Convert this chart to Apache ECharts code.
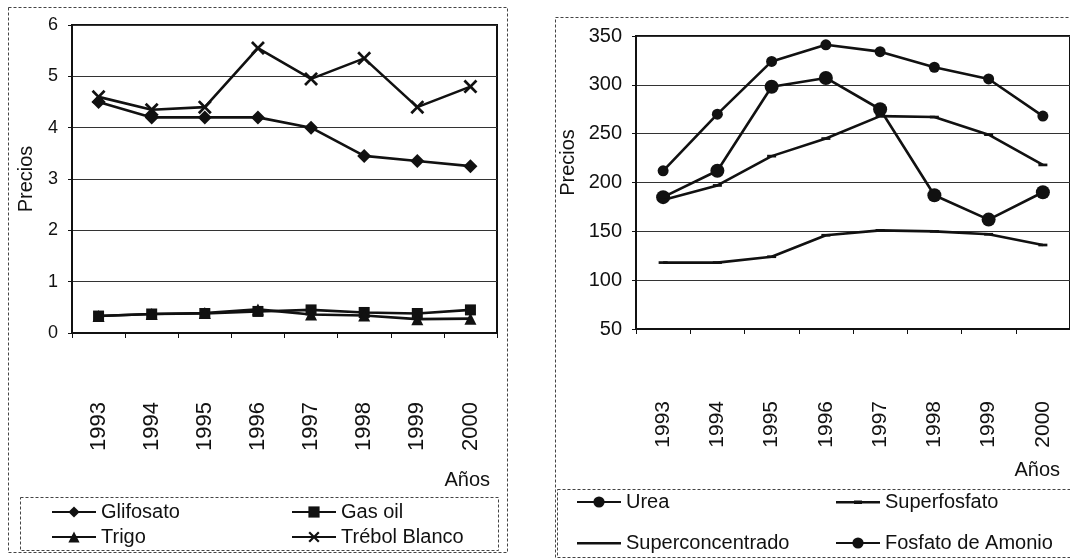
<!DOCTYPE html>
<html>
<head>
<meta charset="utf-8">
<script src="https://cdn.jsdelivr.net/npm/echarts@6/dist/echarts.min.js"></script>
<style>
html,body{margin:0;padding:0;background:#fff;}
#chart{width:1070px;height:559px;}
</style>
</head>
<body>
<div id="chart"></div>
<script>
// ---- data ----
const years = ['1993','1994','1995','1996','1997','1998','1999','2000'];
// left panel
const glifosato     = [4.5, 4.2, 4.2, 4.2, 4.0, 3.45, 3.35, 3.25];
const gasOil        = [0.33, 0.37, 0.38, 0.42, 0.45, 0.40, 0.38, 0.45];
const trigo         = [0.33, 0.37, 0.39, 0.46, 0.36, 0.34, 0.27, 0.28];
const trebolBlanco  = [4.6, 4.35, 4.4, 5.55, 4.95, 5.35, 4.4, 4.8];
// right panel
const urea             = [185, 212, 298, 307, 275, 187, 162, 190];
const superfosfato     = [118, 118, 124, 146, 151, 150, 147, 136];
const superconcentrado = [182, 197, 227, 245, 268, 267, 249, 218];
const fosfatoAmonio    = [212, 270, 324, 341, 334, 318, 306, 268];
// axis settings
const leftY  = {min: 0, max: 6, interval: 1};
const rightY = {min: 50, max: 350, interval: 50};
const yName = 'Precios';
const xName = 'Años';

const FONT = 'Liberation Sans, Arial, sans-serif';
const INK = '#111';
const xMark = 'path://M0,1.4L1.4,0L5,3.6L8.6,0L10,1.4L6.4,5L10,8.6L8.6,10L5,6.4L1.4,10L0,8.6L3.6,5Z';
const dashMark = 'path://M0,0L10,0L10,3L0,3Z';
// legend icon: thin line across a 44x14 box with a small dash in the middle
const dashLegendIcon = 'path://M0,0L0.05,0L0,0.05Z M44,14L43.95,14L44,13.95Z M0,6L44,6L44,8.4L0,8.4Z M18,5.4L26,5.4L26,9L18,9Z';
const lineLegendIcon = 'path://M0,0L0.05,0L0,0.05Z M44,14L43.95,14L44,13.95Z M0,6L44,6L44,8.4L0,8.4Z';

function lineSeries(name, data, idx, symbol, size, extra) {
  return Object.assign({
    name: name, type: 'line', data: data,
    xAxisIndex: idx, yAxisIndex: idx,
    symbol: symbol, symbolSize: size, showSymbol: true,
    lineStyle: {color: INK, width: 2.6},
    itemStyle: {color: INK, borderColor: INK, borderWidth: 0},
    emphasis: {disabled: true},
    animation: false
  }, extra || {});
}

function xAxisCfg(idx, labelSize, margin, gap, pad) {
  return {
    type: 'category', gridIndex: idx, data: years, boundaryGap: true,
    axisLine: {lineStyle: {color: INK, width: 2}},
    axisTick: {show: true, length: 5, lineStyle: {color: INK, width: 1}},
    axisLabel: {rotate: 90, margin: margin, color: INK, fontSize: labelSize, fontFamily: FONT},
    splitLine: {show: false},
    name: xName, nameLocation: 'end', nameGap: gap,
    nameTextStyle: {color: INK, fontSize: 20, fontFamily: FONT, align: 'right', verticalAlign: 'top', padding: [pad, 0, 0, 0]}
  };
}

function yAxisCfg(idx, rng, labelSize, nameGap, namePad) {
  return {
    type: 'value', gridIndex: idx, min: rng.min, max: rng.max, interval: rng.interval,
    axisLine: {show: true, lineStyle: {color: INK, width: 2}},
    axisTick: {show: true, length: 4, lineStyle: {color: INK, width: 1}},
    axisLabel: {margin: 14, color: INK, fontSize: labelSize, fontFamily: FONT},
    splitLine: {show: true, lineStyle: {color: '#333', width: 1.2}},
    name: yName, nameLocation: 'middle', nameGap: nameGap, nameRotate: 90,
    nameTextStyle: {color: INK, fontSize: 20, fontFamily: FONT, padding: namePad}
  };
}

function legendCfg(left, top, gap, names) {
  return {
    orient: 'vertical', left: left, top: top, padding: 0, itemGap: gap,
    itemWidth: 44, itemHeight: 14,
    textStyle: {color: INK, fontSize: 20, fontFamily: FONT, lineHeight: 20},
    data: names, selectedMode: false
  };
}

const chart = echarts.init(document.getElementById('chart'), null, {renderer: 'canvas'});
chart.setOption({
  backgroundColor: '#fff',
  animation: false,
  grid: [
    {left: 72, top: 25, width: 425, height: 308, show: true, borderColor: INK, borderWidth: 2, backgroundColor: 'transparent'},
    {left: 636, top: 36, width: 441, height: 293, show: true, borderColor: INK, borderWidth: 2, backgroundColor: 'transparent'}
  ],
  xAxis: [
    xAxisCfg(0, 22, 69, -7, 137),
    xAxisCfg(1, 21, 72, -10, 131)
  ],
  yAxis: [
    yAxisCfg(0, leftY, 18, 36, [0, 0, 0, 0]),
    yAxisCfg(1, rightY, 20, 58, [0, 0, 0, 40])
  ],
  legend: [
    legendCfg(51, 502, 5, ['Glifosato', 'Trigo']),
    legendCfg(291, 502, 5, ['Gas oil', 'Trébol Blanco']),
    legendCfg(576, 492, 21, ['Urea', {name: 'Superconcentrado', icon: lineLegendIcon}]),
    legendCfg(835, 492, 21, [{name: 'Superfosfato', icon: dashLegendIcon}, 'Fosfato de Amonio'])
  ],
  graphic: [
    {type: 'rect', silent: true, shape: {x: 8.5, y: 7.5, width: 499, height: 545}, style: {fill: null, stroke: '#444', lineWidth: 1, lineDash: [3, 2]}},
    {type: 'rect', silent: true, shape: {x: 20.5, y: 497.5, width: 478, height: 53}, style: {fill: null, stroke: '#444', lineWidth: 1, lineDash: [3, 2]}},
    {type: 'rect', silent: true, shape: {x: 555.5, y: 17.5, width: 530, height: 560}, style: {fill: null, stroke: '#444', lineWidth: 1, lineDash: [3, 2]}},
    {type: 'rect', silent: true, shape: {x: 557.5, y: 489.5, width: 530, height: 68}, style: {fill: null, stroke: '#444', lineWidth: 1, lineDash: [3, 2]}}
  ],
  series: [
    lineSeries('Glifosato', glifosato, 0, 'diamond', 14),
    lineSeries('Gas oil', gasOil, 0, 'rect', 11),
    lineSeries('Trigo', trigo, 0, 'triangle', 12),
    lineSeries('Trébol Blanco', trebolBlanco, 0, xMark, 14),
    lineSeries('Urea', urea, 1, 'circle', 14),
    lineSeries('Superfosfato', superfosfato, 1, dashMark, 9, {symbolKeepAspect: true}),
    lineSeries('Superconcentrado', superconcentrado, 1, dashMark, 9, {symbolKeepAspect: true}),
    lineSeries('Fosfato de Amonio', fosfatoAmonio, 1, 'circle', 11)
  ]
});
</script>
</body>
</html>
